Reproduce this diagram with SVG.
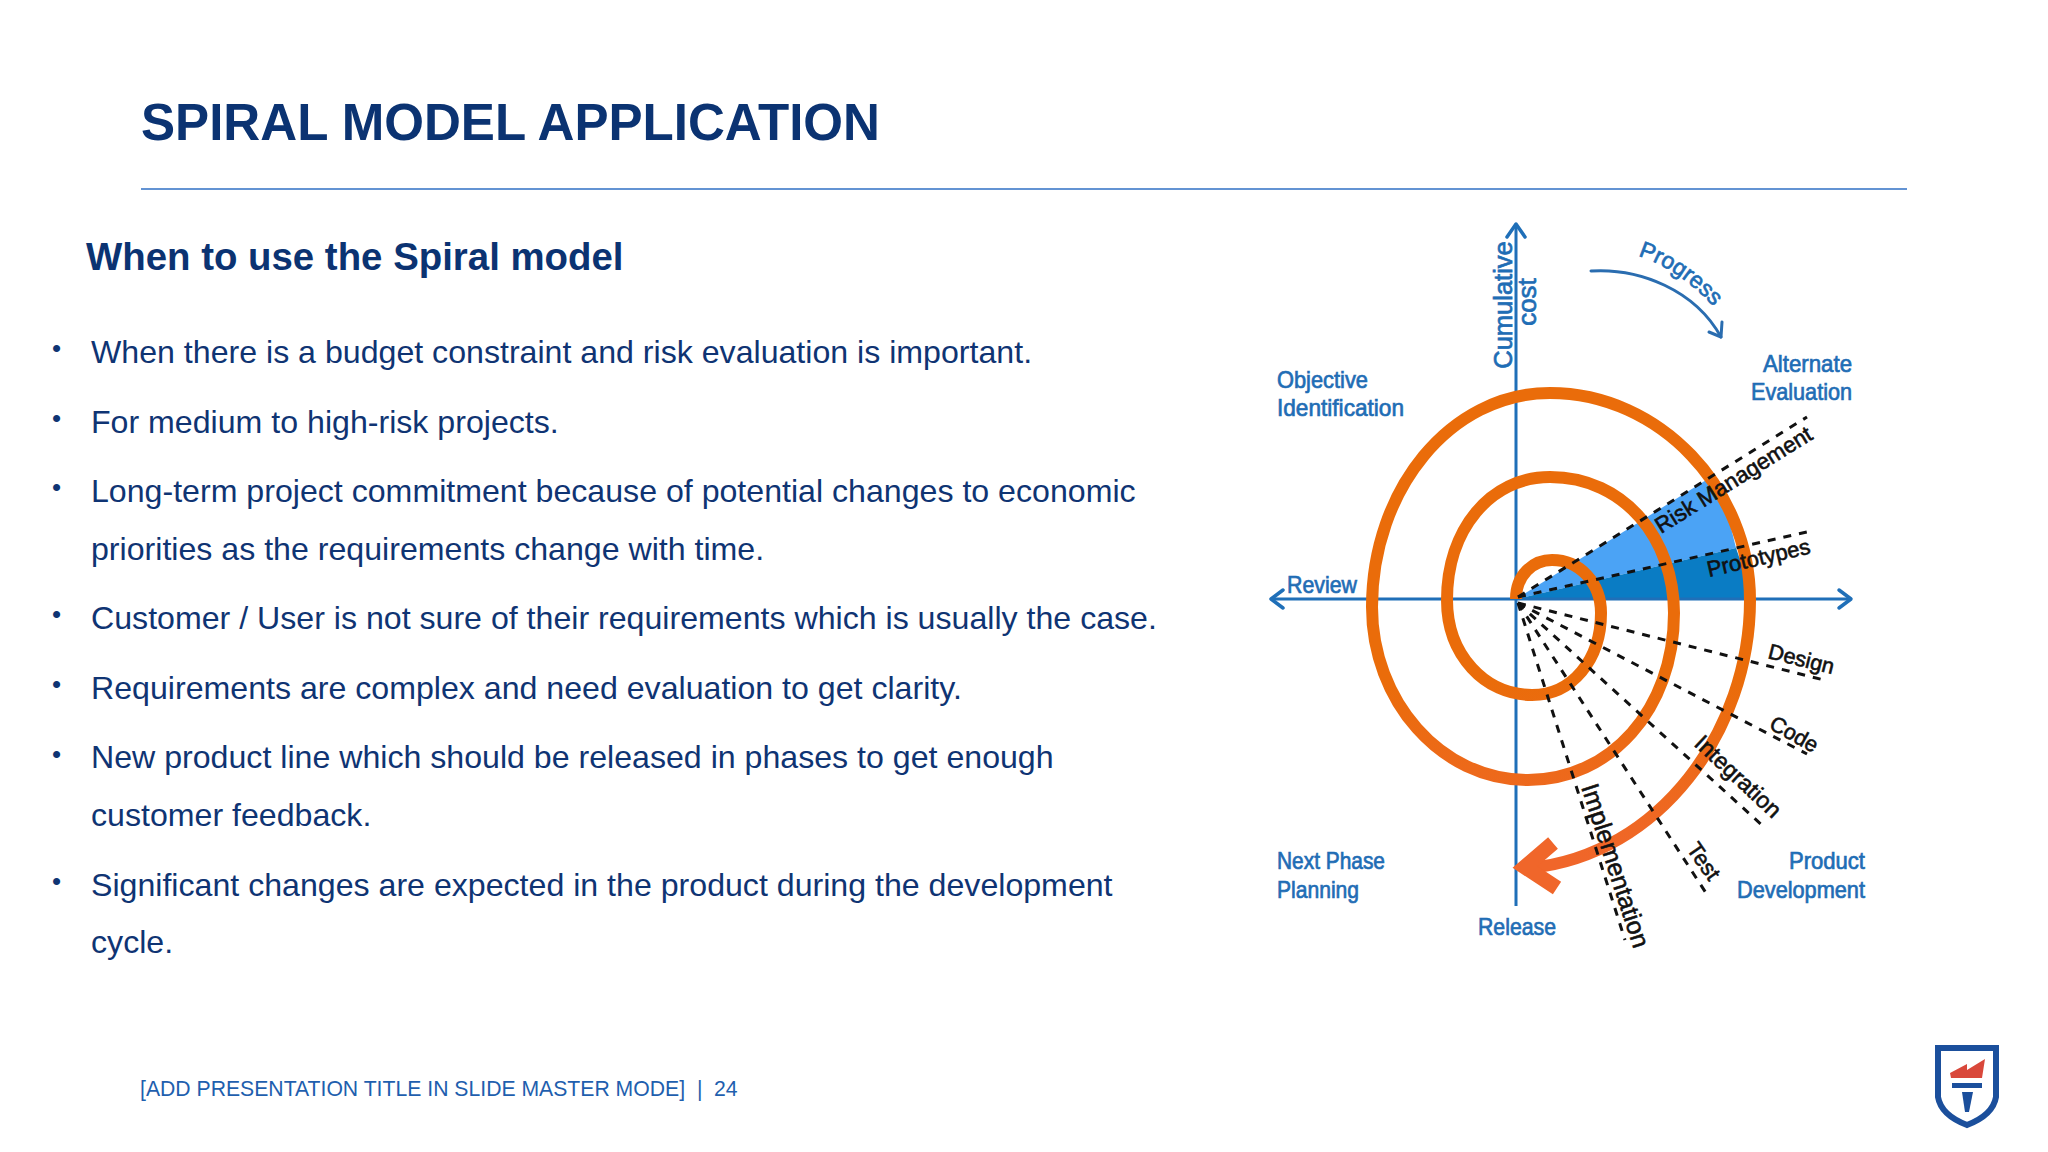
<svg xmlns="http://www.w3.org/2000/svg" width="2048" height="1152" viewBox="0 0 2048 1152">
<defs>
<linearGradient id="arc" gradientUnits="userSpaceOnUse" x1="0" y1="680" x2="0" y2="860"><stop offset="0" stop-color="#ea6c0a"/><stop offset="1" stop-color="#f0662a"/></linearGradient>
<path id="prog" d="M1638,256 Q1682,270 1718,312"/>
</defs>
<style>
text{font-family:"Liberation Sans",Arial,sans-serif}
.title{font-size:51.1px;font-weight:700;fill:#0b3372}
.sub{font-size:38.4px;font-weight:700;fill:#0b3372}
.body{font-size:32.13px;fill:#0f3473}
.dot{font-size:26px;fill:#0f3473}
.foot{font-size:21.2px;fill:#1f5fae}
.lb{font-size:24px;fill:#1f6db5;stroke:#1f6db5;stroke-width:.7}
.bk{font-size:23px;fill:#111;stroke:#111;stroke-width:.6}
.axis{fill:none;stroke:#1f6fb8;stroke-width:3}
.head{fill:none;stroke:#1f6fb8;stroke-width:3.5;stroke-linecap:round;stroke-linejoin:round}
.dash{fill:none;stroke:#111;stroke-width:3;stroke-dasharray:8 8}
</style>
<rect width="2048" height="1152" fill="#fff"/>
<g id="header">
<text class="title" x="141" y="140">SPIRAL MODEL APPLICATION</text>
<line x1="141" y1="189" x2="1907" y2="189" stroke="#2f6fc4" stroke-width="1.5"/>
<text class="sub" x="86" y="270">When to use the Spiral model</text>
</g>
<g id="bullets">
<text class="dot" x="52" y="357">•</text><text class="body" x="91" y="363">When there is a budget constraint and risk evaluation is important.</text>
<text class="dot" x="52" y="427">•</text><text class="body" x="91" y="433">For medium to high-risk projects.</text>
<text class="dot" x="52" y="496">•</text><text class="body" x="91" y="502">Long-term project commitment because of potential changes to economic</text>
<text class="body" x="91" y="560">priorities as the requirements change with time.</text>
<text class="dot" x="52" y="623">•</text><text class="body" x="91" y="629">Customer / User is not sure of their requirements which is usually the case.</text>
<text class="dot" x="52" y="693">•</text><text class="body" x="91" y="699">Requirements are complex and need evaluation to get clarity.</text>
<text class="dot" x="52" y="763">•</text><text class="body" x="91" y="768">New product line which should be released in phases to get enough</text>
<text class="body" x="91" y="826">customer feedback.</text>
<text class="dot" x="52" y="890">•</text><text class="body" x="91" y="896">Significant changes are expected in the product during the development</text>
<text class="body" x="91" y="953">cycle.</text>
</g>
<g id="wedges">
<path d="M1516,599 L1711,477 Q1728,510 1736,548 Z" fill="#4ba3f5"/>
<path d="M1516,599 L1736,548 Q1746,575 1750,599 Z" fill="#0a7cc4"/>
</g>
<g id="connectors">
<path class="axis" d="M1516,906 V225"/>
<path class="head" d="M1507,237 L1516,224 L1525,237"/>
<path class="axis" d="M1272,599 H1850"/>
<path class="head" d="M1283,590 L1271,599 L1283,608"/>
<path class="head" d="M1839,590 L1851,599 L1839,608"/>
<path class="head" style="stroke:#2a6db0;stroke-width:3" d="M1591,271 C1640,268 1695,290 1721,337"/>
<path class="head" style="stroke:#2a6db0;stroke-width:3" d="M1709,332 L1721,337 L1722,322"/>
</g>
<g id="spiral">
<path fill="none" stroke="url(#arc)" stroke-width="12" d="M1516,599 C1516,575 1533,560 1552,560 C1580,560 1601,583 1601,613 C1601,660 1572,695 1532,695 C1485,695 1447,655 1447,600 C1447,530 1490,477 1550,477 C1625,477 1674,540 1674,613 C1674,710 1610,780 1528,780 C1440,780 1372,700 1372,607 C1372,490 1450,393 1550,393 C1660,393 1750,490 1750,600 C1750,730 1660,855 1530,868"/>
<path fill="none" stroke="#f0662a" stroke-width="15" d="M1553,843 L1525,867 L1557,888"/>
</g>
<g id="phase-lines">
<path class="dash" d="M1518,597 L1807,417"/>
<path class="dash" d="M1518,597 L1807,532"/>
<path class="dash" d="M1518,603 L1828,681"/>
<path class="dash" d="M1518,603 L1807,754"/>
<path class="dash" d="M1518,603 L1764,827"/>
<path class="dash" d="M1518,603 L1706,893"/>
<path class="dash" d="M1518,603 L1625,940"/>
</g>
<g id="labels">
<text class="lb" style="font-size:25.5px" text-anchor="middle" transform="translate(1512,305) rotate(-90)">Cumulative</text>
<text class="lb" style="font-size:26px" text-anchor="middle" transform="translate(1536,302) rotate(-90)">cost</text>
<text class="lb" style="font-size:23px"><textPath href="#prog">Progress</textPath></text>
<text class="lb" x="1277" y="388" textLength="91" lengthAdjust="spacingAndGlyphs">Objective</text>
<text class="lb" x="1277" y="416" textLength="127" lengthAdjust="spacingAndGlyphs">Identification</text>
<text class="lb" x="1763" y="372" textLength="89" lengthAdjust="spacingAndGlyphs">Alternate</text>
<text class="lb" x="1751" y="400" textLength="101" lengthAdjust="spacingAndGlyphs">Evaluation</text>
<text class="lb" x="1287" y="593" textLength="70" lengthAdjust="spacingAndGlyphs">Review</text>
<text class="lb" x="1277" y="869" textLength="108" lengthAdjust="spacingAndGlyphs">Next Phase</text>
<text class="lb" x="1277" y="898" textLength="82" lengthAdjust="spacingAndGlyphs">Planning</text>
<text class="lb" x="1789" y="869" textLength="76" lengthAdjust="spacingAndGlyphs">Product</text>
<text class="lb" x="1737" y="898" textLength="128" lengthAdjust="spacingAndGlyphs">Development</text>
<text class="lb" x="1478" y="935" textLength="78" lengthAdjust="spacingAndGlyphs">Release</text>
<text class="bk" style="font-size:22.4px" transform="translate(1661,534) rotate(-32)">Risk Management</text>
<text class="bk" style="font-size:22px" transform="translate(1709,577) rotate(-13)">Prototypes</text>
<text class="bk" style="font-size:21.6px" transform="translate(1767,658) rotate(14)">Design</text>
<text class="bk" style="font-size:21.6px" transform="translate(1768,728) rotate(29)">Code</text>
<text class="bk" style="font-size:23px" transform="translate(1693,745) rotate(43)">Integration</text>
<text class="bk" style="font-size:22px" transform="translate(1686,849) rotate(55)">Test</text>
<text class="bk" style="font-size:25px" transform="translate(1581,787) rotate(72)">Implementation</text>
</g>
<g id="footer">
<text class="foot" x="140" y="1096">[ADD PRESENTATION TITLE IN SLIDE MASTER MODE]</text>
<text class="foot" x="697" y="1096">|</text>
<text class="foot" x="714" y="1096">24</text>
</g>
<g id="logo">
<path d="M1938,1048 H1996 V1097 Q1993,1115 1967,1125 Q1941,1115 1938,1097 Z" fill="#fff" stroke="#1b4f9c" stroke-width="6"/>
<path d="M1950,1073 L1967,1064 V1070 L1985,1059 L1982,1078 H1951 Z" fill="#d9483b"/>
<rect x="1952" y="1083" width="30" height="5" fill="#1b4f9c"/>
<path d="M1962,1092 H1973 L1969,1112 H1965 Z" fill="#1b4f9c"/>
</g>
</svg>
